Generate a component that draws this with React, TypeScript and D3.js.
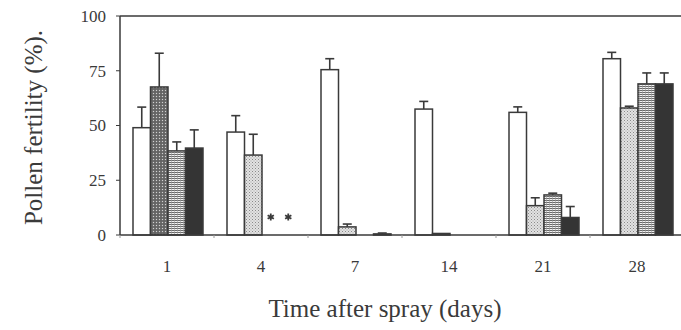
import React from "react";
import * as d3 from "d3";

// Pollen fertility (%) after spray, four treatments per sampling day
const days = ["1", "4", "7", "14", "21", "28"];
const seriesNames = ["s1", "s2", "s3", "s4"];
const s1 = [49, 47, 75.5, 57.5, 56, 80.5];
const s1Err = [9.4, 7.5, 5, 3.5, 2.5, 2.9];
const s2 = [67.6, 36.5, 3.7, 0.7, 13.4, 58];
const s2Err = [15.4, 9.5, 1.3, 0, 3.6, 0.8];
const s3 = [38.4, 0, 0, 0, 18.3, 69];
const s3Err = [4.1, 0, 0, 0, 0.8, 5];
const s4 = [39.7, 0, 0.5, 0, 8, 69];
const s4Err = [8.3, 0, 0.4, 0, 5, 5];
const yTicks = [0, 25, 50, 75, 100];
// no data marked with asterisks
const asterisks = [
  { day: "4", series: "s3" },
  { day: "4", series: "s4" },
];

const values = [s1, s2, s3, s4];
const errors = [s1Err, s2Err, s3Err, s4Err];

const W = 681;
const H = 330;
const ink = "#3a3a3a";
const font = "'Liberation Serif', 'Times New Roman', serif";

function fillFor(si: number, di: number) {
  if (si === 0) return "#fff";
  if (si === 1) return di === 0 ? "url(#dense)" : "url(#dots)";
  if (si === 2) return "url(#grid)";
  return "#343434";
}

export default function App() {
  const x0 = d3.scaleBand<string>().domain(days).range([120, 684]);
  const x1 = d3.scaleBand<string>().domain(seriesNames).range([13, 83]);
  const y = d3.scaleLinear().domain([0, 100]).range([235, 16]);
  const star = d3.symbol(d3.symbolAsterisk, 36)();

  const bars: { x: number; v: number; e: number; si: number; di: number }[] = [];
  days.forEach((d, di) => {
    seriesNames.forEach((s, si) => {
      bars.push({ x: x0(d)! + x1(s)!, v: values[si][di], e: errors[si][di], si, di });
    });
  });
  const bw = x1.bandwidth();

  return (
    <svg width={W} height={H} style={{ position: "absolute", left: 0, top: 0, background: "#fff" }}>
      <defs>
        <pattern id="dots" width={3} height={3} patternUnits="userSpaceOnUse">
          <rect width={3} height={3} fill="#e2e2e2" />
          <rect x={0} y={0} width={1} height={1} fill="#8a8a8a" />
          <rect x={1.5} y={1.5} width={1} height={1} fill="#a5a5a5" />
        </pattern>
        <pattern id="dense" width={3} height={3} patternUnits="userSpaceOnUse">
          <rect width={3} height={3} fill="#6e6e6e" />
          <rect x={0} y={0} width={1} height={1} fill="#d0d0d0" />
          <rect x={1.5} y={1.5} width={1} height={1} fill="#444" />
        </pattern>
        <pattern id="grid" width={3} height={2} patternUnits="userSpaceOnUse">
          <rect width={3} height={2} fill="#f2f2f2" />
          <rect x={0} y={0} width={3} height={1} fill="#6a6a6a" />
          <rect x={0} y={0} width={0.6} height={2} fill="#9a9a9a" />
        </pattern>
      </defs>

      {/* frame */}
      <line x1={120} x2={681} y1={y(100)} y2={y(100)} stroke={ink} strokeWidth={1.5} />
      <line x1={120} x2={120} y1={y(100)} y2={y(0)} stroke={ink} strokeWidth={1.5} />

      {/* y axis */}
      {yTicks.map((t) => (
        <g key={t}>
          <line x1={116} x2={120} y1={y(t)} y2={y(t)} stroke={ink} strokeWidth={1} />
          <text x={106} y={y(t)} dy="0.35em" textAnchor="end" fontSize={17} fontFamily={font} fill={ink}>
            {t}
          </text>
        </g>
      ))}

      {/* bars */}
      {bars.filter((b) => b.v > 0).map((b, i) => (
        <g key={i}>
          {b.e > 0 && (
            <g stroke={ink} strokeWidth={1.6}>
              <line x1={b.x + bw / 2} x2={b.x + bw / 2} y1={y(b.v)} y2={y(b.v + b.e)} />
              <line x1={b.x + bw / 2 - 4.5} x2={b.x + bw / 2 + 4.5} y1={y(b.v + b.e)} y2={y(b.v + b.e)} />
            </g>
          )}
          <rect
            x={b.x}
            y={y(b.v)}
            width={bw}
            height={y(0) - y(b.v)}
            fill={fillFor(b.si, b.di)}
            stroke={ink}
            strokeWidth={1.5}
          />
        </g>
      ))}

      {/* x axis */}
      <line x1={120} x2={681} y1={y(0)} y2={y(0)} stroke={ink} strokeWidth={1.5} />
      {days.map((d) => (
        <g key={d}>
          <line x1={x0(d)!} x2={x0(d)!} y1={y(0)} y2={y(0) + 3} stroke="#999" strokeWidth={1} />
          <text x={x0(d)! + x0.bandwidth() / 2} y={272} textAnchor="middle" fontSize={17} fontFamily={font} fill={ink}>
            {d}
          </text>
        </g>
      ))}

      {asterisks.map((a, i) => (
        <path
          key={i}
          d={star!}
          transform={`translate(${x0(a.day)! + x1(a.series)! + bw / 2}, ${y(0) - 18})`}
          fill="none"
          stroke={ink}
          strokeWidth={1.8}
        />
      ))}

      {/* axis titles */}
      <text x={385} y={317} textAnchor="middle" fontSize={25} fontFamily={font} fill={ink}>
        Time after spray (days)
      </text>
      <text
        transform={`translate(42, ${(y(0) + y(100)) / 2 + 2}) rotate(-90)`}
        textAnchor="middle"
        fontSize={25}
        fontFamily={font}
        fill={ink}
      >
        Pollen fertility (%).
      </text>
    </svg>
  );
}
